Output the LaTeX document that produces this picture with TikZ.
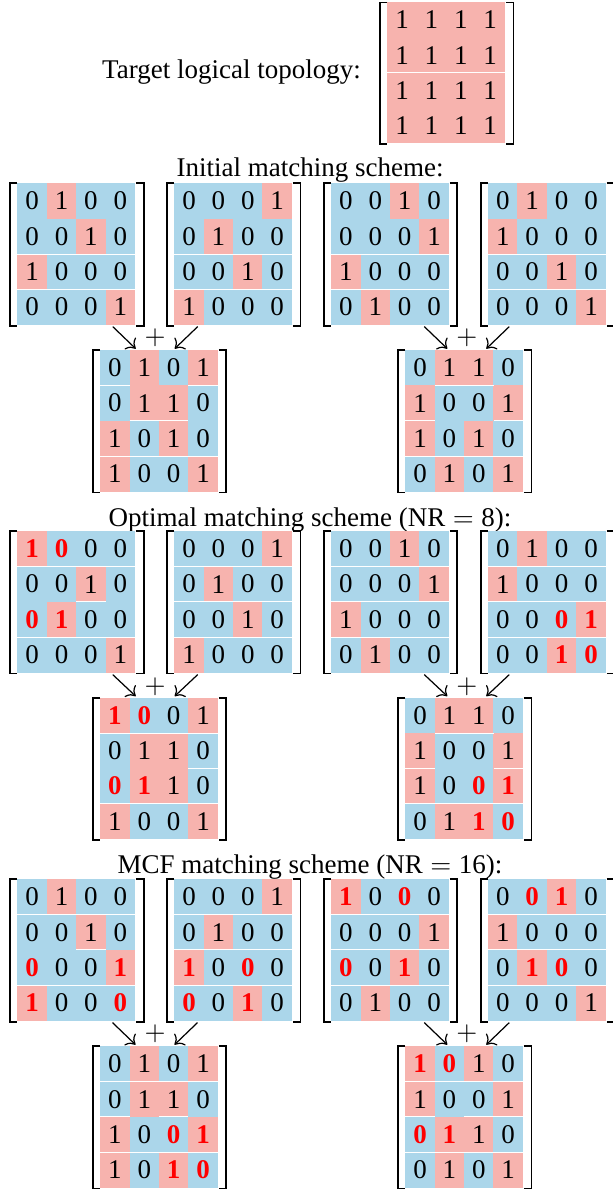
\documentclass[tikz,border=0pt]{standalone}
\usepackage{fontspec}
\setmainfont{Liberation Serif}
\usetikzlibrary{calc,arrows.meta}

\definecolor{cellpink}{HTML}{F7B3AE}
\definecolor{cellblue}{HTML}{ABD6EA}
\definecolor{hired}{HTML}{FF0000}

\tikzset{
  bracket/.style={line width=0.7pt, line join=miter},
  seam/.style={white, line width=0.35pt},
  digit/.style={inner sep=0pt},
  conn/.style={-{To[length=3pt,width=6pt]}, line width=0.45pt},
  caption/.style={anchor=base, inner sep=0pt},
  matbox/.style={inner sep=0pt, anchor=north west},
}

% cell width in px units
\def\cellw{29.4}

% \drawmat{name}{left}{top}{row height}{rows}{seams b/c1/c2}
% cell codes: 0, 1, 2 = bold red 0, 3 = bold red 1
\newcommand\drawmat[6]{%
  \foreach \row [count=\i from 0] in {#5} {
    \foreach \v [count=\j from 0] in \row {
      \ifcase\v
        \def\fillc{cellblue}\def\txt{0}%
      \or
        \def\fillc{cellpink}\def\txt{1}%
      \or
        \def\fillc{cellblue}\def\txt{\textbf{\color{hired}0}}%
      \else
        \def\fillc{cellpink}\def\txt{\textbf{\color{hired}1}}%
      \fi
      \fill[\fillc] ({#2+\j*\cellw-0.1},{#3+\i*#4-0.1}) rectangle ({#2+(\j+1)*\cellw+0.1},{#3+(\i+1)*#4+0.1});
      \node[digit] (#1-\i-\j) at ({#2+(\j+0.5)*\cellw},{#3+(\i+0.5)*#4}) {\txt};
    }
  }
  \foreach \b/\ca/\cb in {#6} {
    \draw[seam] ({#2+\ca*\cellw},{#3+\b*#4}) -- ({#2+(\cb+1)*\cellw},{#3+\b*#4});
  }
  \node[matbox, minimum width=4*\cellw*0.37037pt, minimum height=4*#4*0.37037pt] (#1) at (#2,#3) {};
  \draw[bracket] (#1.north west) -- ++(-7.5,0) |- (#1.south west);
  \draw[bracket] (#1.north east) -- ++(7.5,0) |- (#1.south east);
}

% \sumarrows{name}{centre x}{start y}{end y}{plus y}
\newcommand\sumarrows[5]{%
  \coordinate (#1-ls) at ({#2-42.5},#3);
  \coordinate (#1-le) at ({#2-19.5},#4);
  \coordinate (#1-rs) at ({#2+42.5},#3);
  \coordinate (#1-re) at ({#2+19.5},#4);
  \draw[conn] (#1-ls) -- (#1-le);
  \draw[conn] (#1-rs) -- (#1-re);
  \node[digit] (#1-plus) at (#2,#5) {$+$};
}

\begin{document}
\begin{tikzpicture}[x=0.37037pt, y=-0.37037pt]
\useasboundingbox (0,0) rectangle (613,1189);

% target topology
\node[caption] (tgtlabel) at (231.5,79) {Target logical topology:};
\drawmat{tgt}{387.3}{2.5}{35.1}{{1,1,1,1},{1,1,1,1},{1,1,1,1},{1,1,1,1}}{2/0/3}

% initial scheme
\node[caption] (initlabel) at (310,177) {Initial matching scheme:};
\drawmat{iA}{17.4}{183.4}{35.3}{{0,1,0,0},{0,0,1,0},{1,0,0,0},{0,0,0,1}}{2/0/3,3/0/3}
\drawmat{iB}{174.3}{183.4}{35.3}{{0,0,0,1},{0,1,0,0},{0,0,1,0},{1,0,0,0}}{2/0/3,3/0/3}
\drawmat{iC}{331.2}{183.4}{35.3}{{0,0,1,0},{0,0,0,1},{1,0,0,0},{0,1,0,0}}{2/0/3,3/0/3}
\drawmat{iD}{488.1}{183.4}{35.3}{{0,1,0,0},{1,0,0,0},{0,0,1,0},{0,0,0,1}}{2/0/3,3/0/3}
\sumarrows{iL}{155.2}{326.6}{348.7}{338.2}
\sumarrows{iR}{466.8}{326.6}{348.7}{338.2}
\drawmat{iS1}{100.2}{350.2}{35.3}{{0,1,0,1},{0,1,1,0},{1,0,1,0},{1,0,0,1}}{1/0/0,1/3/3,2/1/2,3/0/3}
\drawmat{iS2}{405.3}{350.2}{35.3}{{0,1,1,0},{1,0,0,1},{1,0,1,0},{0,1,0,1}}{1/1/2,2/0/0,2/3/3,3/0/3}

% optimal scheme
\node[caption] (optlabel) at (310,526.5) {Optimal matching scheme (NR$\;=\;$8):};
\drawmat{oA}{17.4}{531.2}{35.3}{{3,2,0,0},{0,0,1,0},{2,3,0,0},{0,0,0,1}}{1/0/3,2/2/2,3/0/3}
\drawmat{oB}{174.3}{531.2}{35.3}{{0,0,0,1},{0,1,0,0},{0,0,1,0},{1,0,0,0}}{1/0/3,2/0/3,3/0/3}
\drawmat{oC}{331.2}{531.2}{35.3}{{0,0,1,0},{0,0,0,1},{1,0,0,0},{0,1,0,0}}{1/0/3,2/0/3,3/0/3}
\drawmat{oD}{488.1}{531.2}{35.3}{{0,1,0,0},{1,0,0,0},{0,0,2,3},{0,0,3,2}}{1/0/3,2/0/3,3/0/3}
\sumarrows{oL}{155.2}{674.6}{696.2}{686.5}
\sumarrows{oR}{466.8}{674.6}{696.2}{686.5}
\drawmat{oS1}{100.2}{697.7}{35.3}{{3,2,0,1},{0,1,1,0},{2,3,1,0},{1,0,0,1}}{1/0/3,2/3/3,3/0/3}
\drawmat{oS2}{405.3}{697.7}{35.3}{{0,1,1,0},{1,0,0,1},{1,0,2,3},{0,1,3,2}}{1/1/2,2/0/0,2/3/3,3/0/3}

% MCF scheme
\node[caption] (mcflabel) at (310,873.5) {MCF matching scheme (NR$\;=\;$16):};
\drawmat{mA}{17.4}{879.3}{35.3}{{0,1,0,0},{0,0,1,0},{2,0,0,3},{3,0,0,2}}{1/0/3,2/2/2,3/0/3}
\drawmat{mB}{174.3}{879.3}{35.3}{{0,0,0,1},{0,1,0,0},{3,0,2,0},{2,0,3,0}}{1/0/3,2/0/3,3/0/3}
\drawmat{mC}{331.2}{879.3}{35.3}{{3,0,2,0},{0,0,0,1},{2,0,3,0},{0,1,0,0}}{1/0/3,2/0/3,3/0/3}
\drawmat{mD}{488.1}{879.3}{35.3}{{0,2,3,0},{1,0,0,0},{0,3,2,0},{0,0,0,1}}{1/0/3,2/0/3,3/0/3}
\sumarrows{mL}{155.0}{1022.6}{1044.7}{1034.2}
\sumarrows{mR}{466.8}{1022.6}{1044.7}{1034.2}
\drawmat{mS1}{100.2}{1046.2}{35.3}{{0,1,0,1},{0,1,1,0},{1,0,2,3},{1,0,3,2}}{1/0/3,2/0/0,2/2/2,3/0/3}
\drawmat{mS2}{405.3}{1046.2}{35.3}{{3,2,1,0},{1,0,0,1},{2,3,1,0},{0,1,0,1}}{1/0/3,2/0/0,2/2/3,3/0/3}
\end{tikzpicture}
\end{document}
